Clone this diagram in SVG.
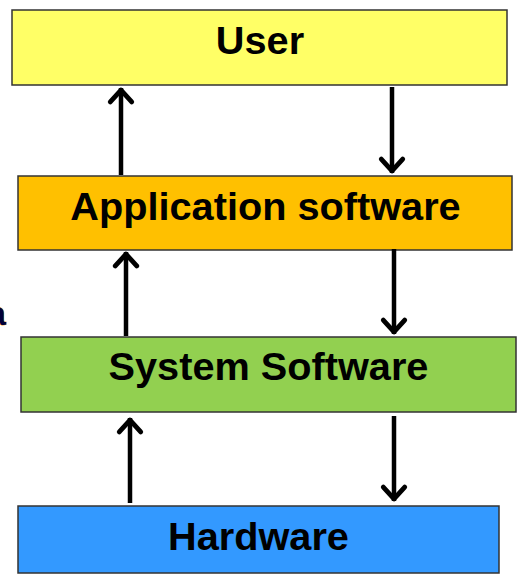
<svg xmlns="http://www.w3.org/2000/svg" width="526" height="588" viewBox="0 0 526 588">
<defs>
<marker id="ah" markerUnits="userSpaceOnUse" markerWidth="30" markerHeight="30" viewBox="-16 -14 20 28" refX="2" refY="0" orient="auto" overflow="visible">
<path d="M-11,-10 L0,0 L-11,10" fill="none" stroke="#000" stroke-width="4.5" stroke-linecap="round" stroke-linejoin="round"/>
</marker>
<style>
.box{stroke:#333;stroke-width:1.5}
.lbl{font-family:"Liberation Sans",Arial,sans-serif;font-weight:bold;font-size:39.7px;fill:#000;text-anchor:middle}
.arr{stroke:#000;stroke-width:4.5;fill:none;marker-end:url(#ah)}
</style>
</defs>
<rect width="526" height="588" fill="#fff"/>
<text x="-13" y="325" font-family="Liberation Sans, Arial, sans-serif" font-weight="bold" font-size="34" fill="#00003a" stroke="#f5a000" stroke-width="0.8" paint-order="stroke">a</text>
<g id="user">
<rect class="box" x="12" y="10" width="495" height="75" fill="#FFFF66"/>
<text class="lbl" x="260" y="53.5">User</text>
</g>
<g id="application">
<rect class="box" x="18" y="176" width="494" height="74" fill="#FFC000"/>
<text class="lbl" x="265.5" y="220">Application software</text>
</g>
<g id="system">
<rect class="box" x="21" y="337" width="495" height="75" fill="#92D050"/>
<text class="lbl" x="268.5" y="380">System Software</text>
</g>
<g id="hardware">
<rect class="box" x="18" y="506" width="481" height="67" fill="#3399FF"/>
<text class="lbl" x="258.5" y="550">Hardware</text>
</g>
<g id="connectors">
<line class="arr" x1="121" y1="175" x2="121" y2="88"/>
<line class="arr" x1="392" y1="87" x2="392" y2="173"/>
<line class="arr" x1="126" y1="336" x2="126" y2="252"/>
<line class="arr" x1="394" y1="249" x2="394" y2="334"/>
<line class="arr" x1="130" y1="503" x2="130" y2="418"/>
<line class="arr" x1="394" y1="416" x2="394" y2="501"/>
</g>
</svg>
